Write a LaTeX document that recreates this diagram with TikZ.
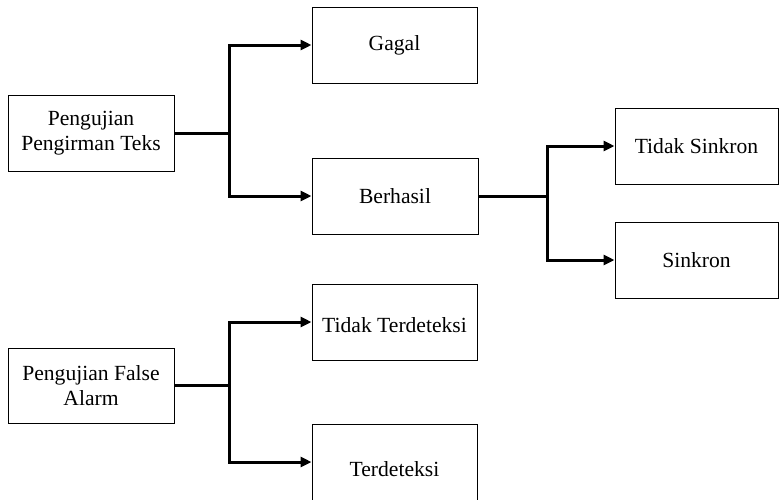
\documentclass[tikz,border=0pt]{standalone}
\usepackage{fontspec}
\setmainfont{Liberation Serif}
\usetikzlibrary{arrows.meta}
\begin{document}
\begin{tikzpicture}[x=1pt,y=-1pt,
  box/.style={draw=black,line width=1pt,rectangle,minimum height=76pt,inner sep=0pt,
    font=\fontsize{21.6}{25}\selectfont,align=center},
  txt/.style={inner sep=0pt,font=\fontsize{21.6}{25}\selectfont,align=center},
  conn/.style={line width=3pt,line join=miter},
  arr/.style={conn,-{Triangle[length=11pt,width=10pt]}}]
\useasboundingbox (0,0) rectangle (779,499);

% first test: text sending
\node[box,minimum width=166pt] (p1) at (91,133) {Pengujian\\Pengirman Teks};
\node[box,minimum width=165pt] (gagal) at (394.5,45) {Gagal};
\node[box,minimum width=166pt] (berhasil) at (395,196) {Berhasil};
\node[box,minimum width=163pt] (tsink) at (696.5,146) {Tidak Sinkron};
\node[box,minimum width=163pt] (sink) at (696.5,260) {Sinkron};

% second test: false alarm
\node[box,minimum width=166pt,minimum height=75pt] (p2) at (91,385.5) {Pengujian False\\Alarm};
\node[box,minimum width=165pt] (tdet) at (394.5,322) {};
\node[txt] (tdetlbl) at (394.5,325) {Tidak Terdeteksi};
\node[box,minimum width=165pt] (det) at (394.5,462) {};
\node[txt] (detlbl) at (394.5,469) {Terdeteksi};

% branch points
\coordinate (j1) at (229,133);
\coordinate (j2) at (547,196);
\coordinate (j3) at (229,385.5);

\draw[conn] (p1.east) -- (j1);
\draw[arr] (j1) |- (gagal.west);
\draw[arr] (j1) |- (berhasil.west);

\draw[conn] (berhasil.east) -- (j2);
\draw[arr] (j2) |- (tsink.west);
\draw[arr] (j2) |- (sink.west);

\draw[conn] (p2.east) -- (j3);
\draw[arr] (j3) |- (tdet.west);
\draw[arr] (j3) |- (det.west);
\end{tikzpicture}
\end{document}
